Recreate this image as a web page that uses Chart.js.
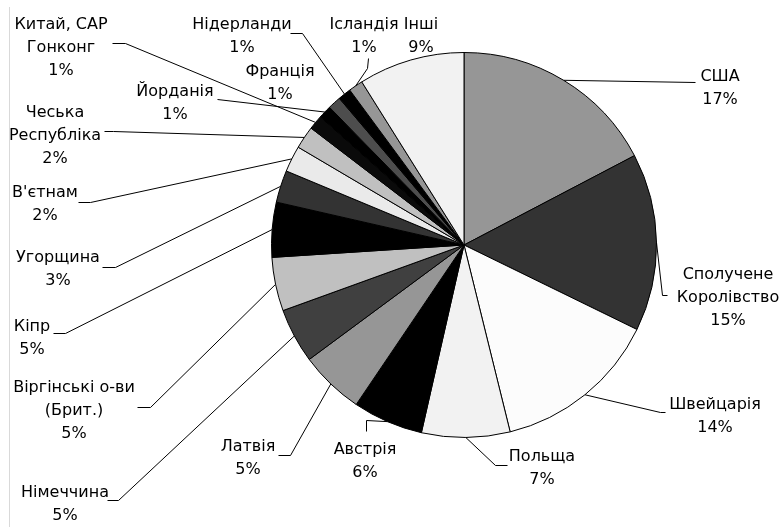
<!DOCTYPE html>
<html>
<head>
<meta charset="utf-8">
<script src="https://cdn.jsdelivr.net/npm/chart.js@4/dist/chart.umd.min.js"></script>
<style>
  html, body { margin: 0; padding: 0; background: #fff; }
  #wrap { position: relative; width: 779px; height: 527px; }
</style>
</head>
<body>
<div id="wrap"><canvas id="pie" width="779" height="527"></canvas></div>
<script>
  // countries, clockwise from 12 o'clock
  var countries = ['США', 'Сполучене\nКоролівство', 'Швейцарія', 'Польща', 'Австрія', 'Латвія',
    'Німеччина', 'Віргінські о-ви\n(Брит.)', 'Кіпр', 'Угорщина', "В'єтнам", 'Чеська\nРеспубліка',
    'Китай, САР\nГонконг', 'Йорданія', 'Франція', 'Нідерланди', 'Ісландія', 'Інші'];

  // shares, %
  var shares = [17.3, 14.9, 13.9, 7.4, 5.9, 5.4, 4.6, 4.5, 4.6, 2.7, 2.2, 1.9, 1.2, 1.1, 1.1, 1.1, 1.2, 8.9];

  var fills = ['#969696', '#333333', '#fcfcfc', '#f2f2f2', '#000000', '#969696',
    '#404040', '#c0c0c0', '#000000', '#333333', '#eaeaea', '#c0c0c0',
    '#0a0a0a', '#000000', '#4d4d4d', '#000000', '#969696', '#f2f2f2'];

  // label placement: text centre / first line y, leader bends after the arc point
  var labelSpots = [
    { x: 720, y: 77, bends: [[695, 82]] },
    { x: 728, y: 275, bends: [[662, 295], [667, 295]] },
    { x: 715, y: 405, bends: [[660, 412], [665, 412]] },
    { x: 542, y: 457, bends: [[495, 465], [507, 465]] },
    { x: 365, y: 450, bends: [[366, 420], [366, 431]] },
    { x: 248, y: 447, bends: [[290, 455], [278, 455]] },
    { x: 65, y: 493, bends: [[118, 500], [107, 500]] },
    { x: 74, y: 388, bends: [[150, 407], [137, 407]] },
    { x: 32, y: 327, bends: [[65, 333], [53, 333]] },
    { x: 58, y: 258, bends: [[115, 267], [102, 267]] },
    { x: 45, y: 193, bends: [[90, 202], [78, 202]] },
    { x: 55, y: 113, bends: [[113, 131], [104, 131]] },
    { x: 61, y: 25, bends: [[125, 43], [112, 43]] },
    { x: 175, y: 92, bends: [[217, 99]] },
    { x: 280, y: 72, bends: [] },
    { x: 242, y: 25, bends: [[302, 33], [290, 33]] },
    { x: 364, y: 25, bends: [[367, 68], [368, 58]] },
    { x: 421, y: 25, bends: [] }
  ];

  var outsideLabels = {
    id: 'outsideLabels',
    beforeDraw: function(chart) {
      var ctx = chart.ctx;
      ctx.save();
      ctx.strokeStyle = '#d9d9d9';
      ctx.lineWidth = 1;
      ctx.beginPath();
      ctx.moveTo(9.5, 7);
      ctx.lineTo(9.5, 527);
      ctx.stroke();
      ctx.restore();
    },
    afterDatasetsDraw: function(chart) {
      var ctx = chart.ctx;
      var meta = chart.getDatasetMeta(0);
      ctx.save();
      ctx.font = '16px "DejaVu Sans"';
      ctx.fillStyle = '#000';
      ctx.textAlign = 'center';
      ctx.textBaseline = 'middle';
      ctx.strokeStyle = '#000';
      ctx.lineWidth = 1;
      meta.data.forEach(function(arc, i) {
        var p = arc.getProps(['x', 'y', 'startAngle', 'endAngle', 'outerRadius'], true);
        var mid = (p.startAngle + p.endAngle) / 2;
        var spot = labelSpots[i];
        if (spot.bends.length) {
          ctx.beginPath();
          ctx.moveTo(p.x + Math.cos(mid) * p.outerRadius, p.y + Math.sin(mid) * p.outerRadius);
          spot.bends.forEach(function(b) { ctx.lineTo(b[0] + 0.5, b[1] + 0.5); });
          ctx.stroke();
        }
        var lines = countries[i].split('\n');
        lines.push(Math.round(shares[i]) + '%');
        lines.forEach(function(t, k) {
          ctx.fillText(t, spot.x, spot.y + k * 23);
        });
      });
      ctx.restore();
    }
  };

  new Chart(document.getElementById('pie'), {
    type: 'pie',
    data: {
      labels: countries,
      datasets: [{
        data: shares,
        backgroundColor: fills,
        borderColor: '#000',
        borderWidth: 1
      }]
    },
    options: {
      responsive: false,
      animation: false,
      layout: { padding: { left: 271, right: 122, top: 52, bottom: 89 } },
      plugins: {
        legend: { display: false },
        tooltip: { enabled: false }
      }
    },
    plugins: [outsideLabels]
  });
</script>
</body>
</html>
